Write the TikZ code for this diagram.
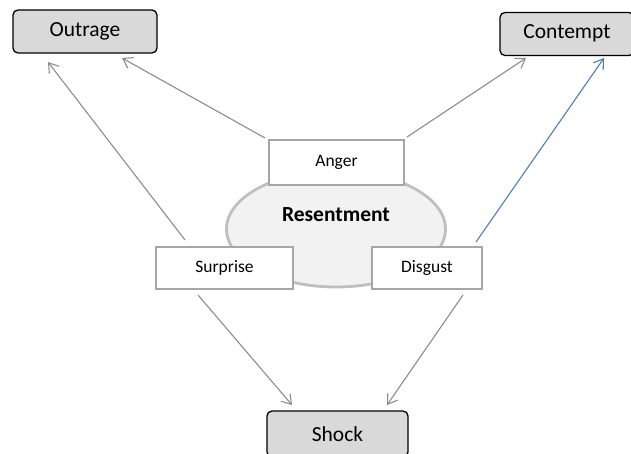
\documentclass[tikz,border=0pt]{standalone}
\usepackage{fontspec}
\setmainfont{Carlito}
\usetikzlibrary{arrows.meta,shapes.geometric}
\definecolor{boxgray}{HTML}{D9D9D9}
\definecolor{rimgray}{HTML}{A6A6A6}
\definecolor{ellfill}{HTML}{F2F2F2}
\definecolor{ellrim}{HTML}{BFBFBF}
\definecolor{linegray}{HTML}{8C8C8C}
\definecolor{lineblue}{HTML}{4A7EBB}
\tikzset{
  outbox/.style={draw=black, line width=1.3pt, fill=boxgray, rounded corners=5pt, inner sep=0pt, font=\fontsize{21.5}{24}\selectfont},
  inbox/.style={draw=rimgray, line width=2.8pt, fill=white, inner sep=0pt, font=\fontsize{17.5}{20}\selectfont},
  conn/.style={draw=linegray, line width=1.1pt, -{Straight Barb[length=9pt,width=12pt,line width=1.1pt]}},
  connblue/.style={conn, draw=lineblue, -{Straight Barb[length=9pt,width=12pt,line width=1.1pt,color=lineblue]}}
}
\begin{document}
\begin{tikzpicture}[x=1pt,y=-1pt]
\useasboundingbox (0,0) rectangle (631,454);
% ellipse
\node[ellipse, draw=ellrim, line width=2.8pt, fill=ellfill, minimum width=219pt, minimum height=116pt] (res) at (336,229) {};
\node[font=\fontsize{21.5}{24}\selectfont\bfseries] (restext) at (336,215) {Resentment};
% outer boxes
\node[outbox, minimum width=144pt, minimum height=43pt, text height=15pt, text depth=5pt] (outrage) at (85,31.5) {Outrage};
\node[outbox, minimum width=134pt, minimum height=43pt, text height=15pt, text depth=5pt] (contempt) at (567,34) {Contempt};
\node[outbox, minimum width=141pt, minimum height=46pt] (shock) at (337.5,434) {Shock};
% inner boxes
\node[inbox, minimum width=135pt, minimum height=45pt] (anger) at (336.5,162.5) {Anger};
\node[inbox, minimum width=137pt, minimum height=42pt] (surprise) at (224.5,268) {Surprise};
\node[inbox, minimum width=110pt, minimum height=42pt] (disgust) at (427,268) {Disgust};
% connector end points
\coordinate (a1) at (265,138);
\coordinate (a2) at (407,137);
\coordinate (s1) at (185,240);
\coordinate (s2) at (198,295);
\coordinate (d1) at (476,242);
\coordinate (d2) at (463,295);
\coordinate (o1) at (122,58);
\coordinate (o2) at (48,62);
\coordinate (c1) at (526,58);
\coordinate (c2) at (604,58);
\coordinate (h1) at (292,405);
\coordinate (h2) at (387,405);
% connectors
\draw[conn] (a1) -- (o1);
\draw[conn] (a2) -- (c1);
\draw[conn] (s1) -- (o2);
\draw[connblue] (d1) -- (c2);
\draw[conn] (s2) -- (h1);
\draw[conn] (d2) -- (h2);
\end{tikzpicture}
\end{document}
